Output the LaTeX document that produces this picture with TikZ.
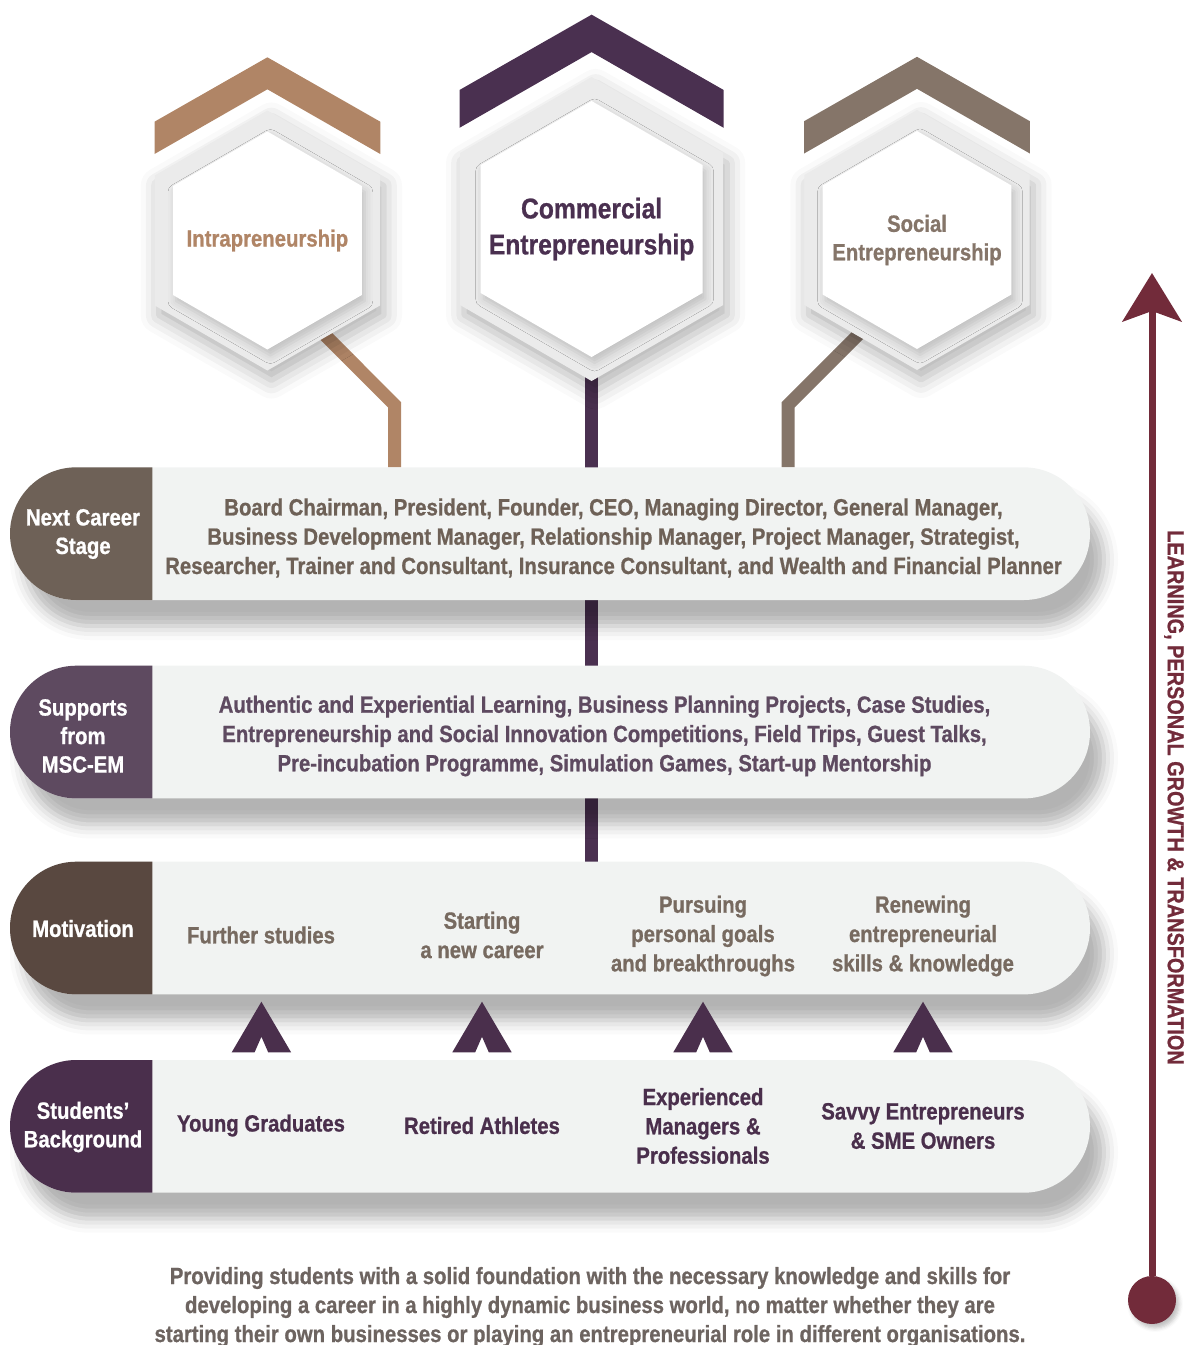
\documentclass[tikz,border=0pt]{standalone}
\usepackage{fontspec}
\setmainfont{Liberation Sans Bold}[FakeStretch=0.865, FakeBold=0.8]
\usetikzlibrary{shadows.blur,arrows.meta}

\definecolor{intracol}{HTML}{B08566}
\definecolor{commcol}{HTML}{4A3050}
\definecolor{soccol}{HTML}{857569}
\definecolor{careercol}{HTML}{6E6157}
\definecolor{supportcol}{HTML}{5E4A60}
\definecolor{motivecol}{HTML}{594840}
\definecolor{motivetxt}{HTML}{776A60}
\definecolor{studentcol}{HTML}{4A2F4C}
\definecolor{rowfill}{HTML}{F1F3F2}
\definecolor{ringgrey}{HTML}{EBEBEB}
\definecolor{learncol}{HTML}{722B3A}
\definecolor{footcol}{HTML}{6D6460}

\tikzset{
    hexcap/.pic={\fill (0,-183.2) -- (112.9,-118.8) -- (112.9,-86.5) -- (0,-151.2) -- (-112.9,-86.5) -- (-112.9,-118.8) -- cycle;},
    upchev/.pic={\fill[studentcol] (-29.7,0) -- (0,-50.6) -- (29.7,0) -- (6.8,0) -- (0,-15.6) -- (-6.8,0) -- cycle;}
}

\begin{document}
\begin{tikzpicture}[x=1pt, y=-1pt,
    ringshade/.style={fill=ringgrey, blur shadow={shadow xshift=4pt, shadow yshift=-10pt, shadow blur radius=18pt, shadow opacity=30}},
    coreshade/.style={fill=white, blur shadow={shadow xshift=3pt, shadow yshift=-6pt, shadow blur radius=8pt, shadow opacity=18}},
    hextext/.style={align=center, font=\fontsize{23.5}{28.5}\selectfont},
    rowbox/.style={rectangle, minimum width=1080pt, minimum height=132.7pt, rounded corners=66.35pt, fill=rowfill, inner sep=0pt, outer sep=0pt, blur shadow={shadow xshift=14pt, shadow yshift=-26pt, shadow blur radius=14pt, shadow opacity=30}},
    labeltext/.style={text=white, align=center, font=\fontsize{23.5}{28.5}\selectfont},
    rowtext/.style={align=center, font=\fontsize{23.5}{29.3}\selectfont},
    link/.style={line width=13pt, line join=miter}]

            \useasboundingbox (0,0) rectangle (1184,1345);

            \coordinate (intrac) at (267.4, 240.5);
            \coordinate (commc) at (591.6, 229);
            \coordinate (socc) at (917, 240);
            \coordinate (careertop) at (550, 467.3);
            \coordinate (motivetop) at (550, 861.7);
            \coordinate (intrafoot) at (300, 310);
            \coordinate (intraknee) at (394.7, 405);
            \coordinate (socfoot) at (883, 310);
            \coordinate (socknee) at (788, 405);

            \draw[link, intracol] (intrafoot) -- (intraknee) -- (intraknee |- careertop);
            \draw[link, soccol] (socfoot) -- (socknee) -- (socknee |- careertop);
            \draw[link, commcol] (commc) -- (commc |- motivetop);

            \node[rowbox] at (550, 533.65) (career) {};
            \node[rowbox] at (550, 732.05) (support) {};
            \node[rowbox] at (550, 928.05) (motive) {};
            \node[rowbox] at (550, 1126.35) (student) {};

            \fill[ringshade] (intrac) +(0,-130) -- +(112.6,-65) -- +(112.6,65) -- +(0,130) -- +(-112.6,65) -- +(-112.6,-65) -- cycle;
            \fill[coreshade] (intrac) +(0,-109) -- +(94.4,-54.5) -- +(94.4,54.5) -- +(0,109) -- +(-94.4,54.5) -- +(-94.4,-54.5) -- cycle;
            \fill[ringshade] (commc) +(0,-152) -- +(131.6,-76) -- +(131.6,76) -- +(0,152) -- +(-131.6,76) -- +(-131.6,-76) -- cycle;
            \fill[coreshade] (commc) +(0,-128) -- +(110.9,-64) -- +(110.9,64) -- +(0,128) -- +(-110.9,64) -- +(-110.9,-64) -- cycle;
            \fill[ringshade] (socc) +(0,-130) -- +(112.6,-65) -- +(112.6,65) -- +(0,130) -- +(-112.6,65) -- +(-112.6,-65) -- cycle;
            \fill[coreshade] (socc) +(0,-109) -- +(94.4,-54.5) -- +(94.4,54.5) -- +(0,109) -- +(-94.4,54.5) -- +(-94.4,-54.5) -- cycle;

            \pic[color=intracol] at (intrac) {hexcap};
            \pic[color=commcol, scale=1.17] at (commc) {hexcap};
            \pic[color=soccol] at (socc) {hexcap};

            \node[hextext, text=intracol] at (intrac) (intrahex) {Intrapreneurship};
            \node[hextext, text=commcol, font=\fontsize{28.5}{36}\selectfont] at (commc) (commhex) {Commercial\\Entrepreneurship};
            \node[hextext, text=soccol] at (socc) (sochex) {Social\\Entrepreneurship};

            \begin{scope}
            \clip (0,0) rectangle (152.3,1345);
            \fill[careercol, rounded corners=66.35pt] (career.north west) rectangle (career.south east);
            \fill[supportcol, rounded corners=66.35pt] (support.north west) rectangle (support.south east);
            \fill[motivecol, rounded corners=66.35pt] (motive.north west) rectangle (motive.south east);
            \fill[studentcol, rounded corners=66.35pt] (student.north west) rectangle (student.south east);
            \end{scope}

            \node[labeltext] at (83, 534) (careerlab) {Next Career\\Stage};
            \node[labeltext] at (83, 736) (supportlab) {Supports\\from\\MSC-EM};
            \node[labeltext] at (83, 928.5) (motivelab) {Motivation};
            \node[labeltext] at (83, 1127) (studentlab) {Students’\\Background};

            \node[rowtext, text=careercol] at (613.5, 538) (careertext) {Board Chairman, President, Founder, CEO, Managing Director, General Manager,\\Business Development Manager, Relationship Manager, Project Manager, Strategist,\\Researcher, Trainer and Consultant, Insurance Consultant, and Wealth and Financial Planner};
            \node[rowtext, text=supportcol] at (604.5, 736) (supporttext) {Authentic and Experiential Learning, Business Planning Projects, Case Studies,\\Entrepreneurship and Social Innovation Competitions, Field Trips, Guest Talks,\\Pre-incubation Programme, Simulation Games, Start-up Mentorship};

            \node[rowtext, text=motivetxt] at (261, 935) (further) {Further studies};
            \node[rowtext, text=motivetxt] at (482, 935) (newcareer) {Starting\\a new career};
            \node[rowtext, text=motivetxt] at (703, 936) (goals) {Pursuing\\personal goals\\and breakthroughs};
            \node[rowtext, text=motivetxt] at (923, 936) (renew) {Renewing\\entrepreneurial\\skills \& knowledge};

            \node[rowtext, text=studentcol] at (261, 1125.5) (graduates) {Young Graduates};
            \node[rowtext, text=studentcol] at (482, 1125.5) (athletes) {Retired Athletes};
            \node[rowtext, text=studentcol] at (703, 1126) (managers) {Experienced\\Managers \&\\Professionals};
            \node[rowtext, text=studentcol] at (923, 1126) (owners) {Savvy Entrepreneurs\\\& SME Owners};

            \pic at (261.4, 1052.3) {upchev};
            \pic at (482, 1052.3) {upchev};
            \pic at (703, 1052.3) {upchev};
            \pic at (923, 1052.3) {upchev};

            \node[circle, fill=learncol, minimum size=48pt, inner sep=0pt, blur shadow={shadow xshift=3pt, shadow yshift=-4pt, shadow blur radius=4pt, shadow opacity=25}] at (1152, 1300) (learnstart) {};
            \coordinate (learntip) at (1152, 273);
            \draw[learncol, line width=7pt, -{Stealth[length=48.5pt, width=59pt, inset=10.5pt]}] (learnstart) -- (learntip);
            \node[rotate=-90, text=learncol, font=\fontsize{23}{26}\selectfont] at (1174, 797.5) (learntext) {LEARNING, PERSONAL GROWTH \& TRANSFORMATION};

            \node[align=center, text=footcol, font=\fontsize{23.5}{29}\selectfont] at (590, 1307) (footnote) {Providing students with a solid foundation with the necessary knowledge and skills for\\developing a career in a highly dynamic business world, no matter whether they are\\starting their own businesses or playing an entrepreneurial role in different organisations.};

            \end{tikzpicture}
\end{document}
